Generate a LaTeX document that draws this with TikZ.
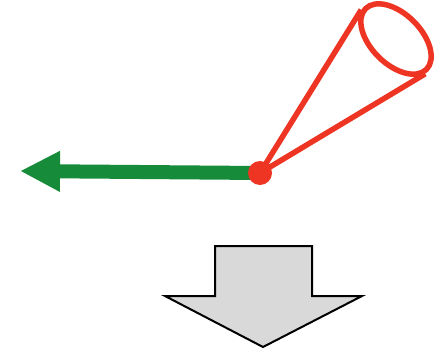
\documentclass[tikz,border=0pt]{standalone}
\usetikzlibrary{arrows.meta,shapes.geometric}
\definecolor{conered}{RGB}{238,52,35}
\definecolor{pathgreen}{RGB}{22,140,58}
\definecolor{blockgray}{RGB}{217,217,217}
\begin{document}
\begin{tikzpicture}[x=1pt,y=1pt]
\useasboundingbox (0,0) rectangle (446,349);
\coordinate (apex) at (260,176);
\coordinate (tip) at (20,178);
\node[draw=conered, line width=5.5pt, ellipse, minimum width=86pt, minimum height=50pt, inner sep=0pt, rotate=-45] (rim) at (396,310) {};
\draw[pathgreen, line width=14pt, -{Triangle[length=40pt,width=38pt]}] (apex) -- (tip);
\draw[conered, line width=5.5pt, line join=round] (rim.185) -- (apex) -- (rim.355);
\node[circle, fill=conered, minimum size=24pt, inner sep=0pt] (hub) at (apex) {};
\draw[line width=2pt, fill=blockgray] (215,103) -- (312,103) -- (312,53) -- (362,53) -- (263,2) -- (165,53) -- (215,53) -- cycle;
\end{tikzpicture}
\end{document}
